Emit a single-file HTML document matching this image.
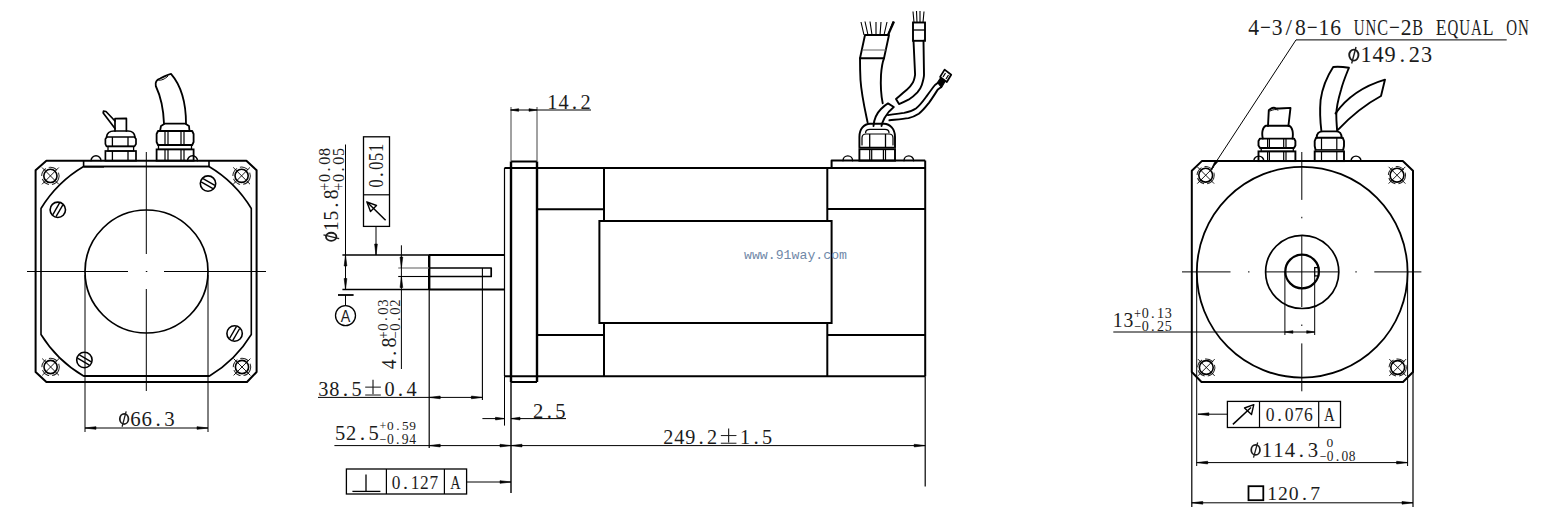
<!DOCTYPE html>
<html><head><meta charset="utf-8"><style>
html,body{margin:0;padding:0;background:#fff;}
body{width:1556px;height:510px;overflow:hidden;}
svg{display:block;font-family:"Liberation Serif",serif;}
</style></head><body>
<svg width="1556" height="510" viewBox="0 0 1556 510">
<rect width="1556" height="510" fill="#fff"/>
<path d="M46.4,160.7 L246.4,160.7 L256.6,170.3 L256.6,372 L247,382 L46.4,382 L35.6,372 L35.6,170.3 Z" stroke="#000" stroke-width="2" fill="none" stroke-linejoin="round"/>
<path d="M83.6,160.7 L83.6,166.5 L209,166.5 L209,160.7" stroke="#000" stroke-width="1.6" fill="none" stroke-linejoin="round"/>
<line x1="83.6" y1="166.8" x2="104" y2="166.8" stroke="#000" stroke-width="1.6"/>
<path d="M83.6,166.5 L209,166.5 A122.7,122.7 0 0 1 251.3,208.5 L251.3,334.5 A122.7,122.7 0 0 1 209.5,376 L83.6,376 A122.7,122.7 0 0 1 41,334.5 L41,208.5 A122.7,122.7 0 0 1 83.6,166.5" stroke="#000" stroke-width="1.6" fill="none" stroke-linejoin="round" stroke-linecap="round"/>
<line x1="83.6" y1="376" x2="209.5" y2="376" stroke="#000" stroke-width="2.2"/>
<circle cx="50.4" cy="175.9" r="6.6" stroke="#000" stroke-width="1.6" fill="none"/>
<circle cx="50.4" cy="175.9" r="8.7" stroke="#222" stroke-width="1" fill="none" stroke-dasharray="9 3" transform="rotate(20 50.4 175.9)"/>
<line x1="42" y1="167.5" x2="58.8" y2="184.3" stroke="#000" stroke-width="0.9"/>
<line x1="42" y1="184.3" x2="58.8" y2="167.5" stroke="#000" stroke-width="0.9"/>
<circle cx="241.6" cy="175.8" r="6.6" stroke="#000" stroke-width="1.6" fill="none"/>
<circle cx="241.6" cy="175.8" r="8.7" stroke="#222" stroke-width="1" fill="none" stroke-dasharray="9 3" transform="rotate(20 241.6 175.8)"/>
<line x1="233.2" y1="167.4" x2="250" y2="184.2" stroke="#000" stroke-width="0.9"/>
<line x1="233.2" y1="184.2" x2="250" y2="167.4" stroke="#000" stroke-width="0.9"/>
<circle cx="50.6" cy="367" r="6.6" stroke="#000" stroke-width="1.6" fill="none"/>
<circle cx="50.6" cy="367" r="8.7" stroke="#222" stroke-width="1" fill="none" stroke-dasharray="9 3" transform="rotate(20 50.6 367)"/>
<line x1="42.2" y1="358.6" x2="59" y2="375.4" stroke="#000" stroke-width="0.9"/>
<line x1="42.2" y1="375.4" x2="59" y2="358.6" stroke="#000" stroke-width="0.9"/>
<circle cx="242" cy="367" r="6.6" stroke="#000" stroke-width="1.6" fill="none"/>
<circle cx="242" cy="367" r="8.7" stroke="#222" stroke-width="1" fill="none" stroke-dasharray="9 3" transform="rotate(20 242 367)"/>
<line x1="233.6" y1="358.6" x2="250.4" y2="375.4" stroke="#000" stroke-width="0.9"/>
<line x1="233.6" y1="375.4" x2="250.4" y2="358.6" stroke="#000" stroke-width="0.9"/>
<circle cx="57.8" cy="209.8" r="7.7" stroke="#000" stroke-width="1.6" fill="none"/>
<line x1="52.72" y1="214.79" x2="59.59" y2="202.91" stroke="#000" stroke-width="1.4"/>
<line x1="56.01" y1="216.69" x2="62.88" y2="204.81" stroke="#000" stroke-width="1.4"/>
<circle cx="208" cy="183.6" r="7.7" stroke="#000" stroke-width="1.6" fill="none"/>
<line x1="203.01" y1="178.52" x2="214.89" y2="185.39" stroke="#000" stroke-width="1.4"/>
<line x1="201.11" y1="181.81" x2="212.99" y2="188.68" stroke="#000" stroke-width="1.4"/>
<circle cx="234.6" cy="333.5" r="7.7" stroke="#000" stroke-width="1.6" fill="none"/>
<line x1="229.52" y1="338.49" x2="236.39" y2="326.61" stroke="#000" stroke-width="1.4"/>
<line x1="232.81" y1="340.39" x2="239.68" y2="328.51" stroke="#000" stroke-width="1.4"/>
<circle cx="84.4" cy="360" r="7.7" stroke="#000" stroke-width="1.6" fill="none"/>
<line x1="79.41" y1="354.92" x2="91.29" y2="361.79" stroke="#000" stroke-width="1.4"/>
<line x1="77.51" y1="358.21" x2="89.39" y2="365.08" stroke="#000" stroke-width="1.4"/>
<line x1="27" y1="271.5" x2="128" y2="271.5" stroke="#000" stroke-width="1"/>
<line x1="145.8" y1="271.5" x2="147.3" y2="271.5" stroke="#000" stroke-width="1"/>
<line x1="164" y1="271.5" x2="266" y2="271.5" stroke="#000" stroke-width="1"/>
<line x1="146.3" y1="152" x2="146.3" y2="254" stroke="#000" stroke-width="1"/>
<line x1="146.3" y1="289" x2="146.3" y2="391" stroke="#000" stroke-width="1"/>
<circle cx="146.5" cy="271.5" r="61.5" stroke="#000" stroke-width="1.7" fill="none"/>
<line x1="85" y1="275" x2="85" y2="432" stroke="#000" stroke-width="1"/>
<line x1="208" y1="275" x2="208" y2="432" stroke="#000" stroke-width="1"/>
<line x1="85" y1="428" x2="208" y2="428" stroke="#000" stroke-width="1"/>
<path d="M85,428 L96,426.65 L96,429.35 Z" fill="#000" stroke="#000" stroke-width="0.6"/>
<path d="M208,428 L197,429.35 L197,426.65 Z" fill="#000" stroke="#000" stroke-width="0.6"/>
<g font-family="Liberation Serif" font-size="21.04" fill="#1c1c1c"><ellipse cx="124.13" cy="418.93" rx="4.31" ry="5.11" stroke="#1c1c1c" stroke-width="1.77" fill="none"/><line x1="126.17" y1="411.4" x2="122.09" y2="426.74" stroke="#1c1c1c" stroke-width="1.29"/><text transform="translate(135.47,425.6) scale(0.991,1)" text-anchor="middle">6</text><text transform="translate(146.8,425.6) scale(0.991,1)" text-anchor="middle">6</text><text x="158.13" y="425.6" text-anchor="middle">.</text><text transform="translate(169.47,425.6) scale(0.991,1)" text-anchor="middle">3</text></g>
<rect x="105.4" y="151" width="30.6" height="9.7" stroke="#000" stroke-width="1.7" fill="none"/>
<line x1="112.4" y1="151" x2="112.4" y2="160.7" stroke="#000" stroke-width="1.3"/>
<line x1="128" y1="151" x2="128" y2="160.7" stroke="#000" stroke-width="1.3"/>
<rect x="108" y="146.4" width="25.6" height="4.6" stroke="#000" stroke-width="1.3" fill="none"/>
<path d="M106.5,146.4 L105.4,144 L105.4,139 L107,137 L134.5,137 L136,139 L136,144 L134.5,146.4 Z" stroke="#000" stroke-width="1.7" fill="none" stroke-linejoin="round" stroke-linecap="round"/>
<line x1="112.4" y1="137" x2="112.4" y2="146.4" stroke="#000" stroke-width="1.3"/>
<line x1="128" y1="137" x2="128" y2="146.4" stroke="#000" stroke-width="1.3"/>
<path d="M106.5,137 C107,133 110,131 114,131 L128,131 C132,131 134.5,133 135,137" stroke="#000" stroke-width="1.7" fill="none" stroke-linejoin="round" stroke-linecap="round"/>
<path d="M115,131 L115,118.6 L126.4,118.4 L126.4,131" stroke="#000" stroke-width="1.7" fill="none" stroke-linejoin="round" stroke-linecap="round"/>
<path d="M115,128.5 L103.2,113 L103.5,111.2 L106,111.5 L115,121" stroke="#000" stroke-width="1.7" fill="none" stroke-linejoin="round" stroke-linecap="round"/>
<path d="M91,160.7 A5,5 0 0 1 101,160.7" stroke="#000" stroke-width="1.4" fill="none" stroke-linejoin="round" stroke-linecap="round"/>
<path d="M187.5,160.7 A5,5 0 0 1 197.5,160.7" stroke="#000" stroke-width="1.4" fill="none" stroke-linejoin="round" stroke-linecap="round"/>
<rect x="156.6" y="149.4" width="37" height="11.3" stroke="#000" stroke-width="1.8" fill="none"/>
<line x1="165" y1="149.4" x2="165" y2="160.7" stroke="#000" stroke-width="1.2"/>
<line x1="168" y1="149.4" x2="168" y2="160.7" stroke="#000" stroke-width="1.2"/>
<line x1="181" y1="149.4" x2="181" y2="160.7" stroke="#000" stroke-width="1.2"/>
<line x1="184" y1="149.4" x2="184" y2="160.7" stroke="#000" stroke-width="1.2"/>
<rect x="158.5" y="145" width="33" height="4.4" stroke="#000" stroke-width="1.3" fill="none"/>
<path d="M158,145 L156.6,142 L156.6,134 L158,131 L192.2,131 L193.6,134 L193.6,142 L192.2,145 Z" stroke="#000" stroke-width="1.8" fill="none" stroke-linejoin="round" stroke-linecap="round"/>
<line x1="165" y1="131" x2="165" y2="145" stroke="#000" stroke-width="1.2"/>
<line x1="168" y1="131" x2="168" y2="145" stroke="#000" stroke-width="1.2"/>
<line x1="181" y1="131" x2="181" y2="145" stroke="#000" stroke-width="1.2"/>
<line x1="184" y1="131" x2="184" y2="145" stroke="#000" stroke-width="1.2"/>
<path d="M160,131 L161,126 L165,123.6 L185,123.6 L189,126 L189.5,131" stroke="#000" stroke-width="1.8" fill="none" stroke-linejoin="round" stroke-linecap="round"/>
<path d="M164,123.6 C163.5,110 161,97 155.8,86 C155,82 157,79.5 160,78.5 C164,77 167,74.5 171,73.8 C179,83 186,97 186,123.6" stroke="#000" stroke-width="1.8" fill="none" stroke-linejoin="round" stroke-linecap="round"/>
<path d="M158,80 C161,81 165,79 168,76" stroke="#000" stroke-width="1" fill="none" stroke-linejoin="round" stroke-linecap="round"/>
<line x1="504.5" y1="167.9" x2="504.5" y2="376.3" stroke="#000" stroke-width="1.2"/>
<line x1="504.5" y1="167.9" x2="925.2" y2="167.9" stroke="#000" stroke-width="2"/>
<line x1="504.5" y1="376.3" x2="925.2" y2="376.3" stroke="#000" stroke-width="2"/>
<line x1="511" y1="161.5" x2="511" y2="382" stroke="#000" stroke-width="2.4"/>
<line x1="537" y1="161.5" x2="537" y2="382" stroke="#000" stroke-width="2.4"/>
<line x1="511" y1="161.5" x2="537" y2="161.5" stroke="#000" stroke-width="2"/>
<line x1="511" y1="382" x2="537" y2="382" stroke="#000" stroke-width="2"/>
<line x1="511" y1="107" x2="511" y2="161.5" stroke="#444" stroke-width="1"/>
<line x1="537" y1="107" x2="537" y2="161.5" stroke="#444" stroke-width="1"/>
<line x1="511" y1="382" x2="511" y2="493" stroke="#000" stroke-width="1.4"/>
<line x1="504.5" y1="376.3" x2="504.5" y2="425.6" stroke="#000" stroke-width="1"/>
<line x1="537" y1="209.3" x2="604" y2="209.3" stroke="#000" stroke-width="2"/>
<line x1="537" y1="335" x2="604" y2="335" stroke="#000" stroke-width="2"/>
<line x1="604" y1="167.9" x2="604" y2="221" stroke="#000" stroke-width="2"/>
<line x1="604" y1="323" x2="604" y2="376.3" stroke="#000" stroke-width="2"/>
<rect x="599.4" y="221" width="232.2" height="102" stroke="#000" stroke-width="2" fill="none"/>
<line x1="827.3" y1="167.9" x2="827.3" y2="221" stroke="#000" stroke-width="2"/>
<line x1="827.3" y1="323" x2="827.3" y2="376.3" stroke="#000" stroke-width="2"/>
<line x1="827.3" y1="209" x2="925.2" y2="209" stroke="#000" stroke-width="2"/>
<line x1="827.3" y1="335" x2="925.2" y2="335" stroke="#000" stroke-width="2"/>
<line x1="925.2" y1="160.5" x2="925.2" y2="376.3" stroke="#000" stroke-width="2"/>
<line x1="925.2" y1="376.3" x2="925.2" y2="486.4" stroke="#000" stroke-width="1.2"/>
<path d="M831.6,167.9 L831.6,160.5 L925.2,160.5" stroke="#000" stroke-width="2" fill="none" stroke-linejoin="round"/>
<line x1="429" y1="255" x2="504.5" y2="255" stroke="#000" stroke-width="2"/>
<line x1="429" y1="289.5" x2="504.5" y2="289.5" stroke="#000" stroke-width="2"/>
<line x1="429.2" y1="255" x2="429.2" y2="289.5" stroke="#000" stroke-width="2.4"/>
<line x1="342.4" y1="255" x2="429" y2="255" stroke="#000" stroke-width="1.4"/>
<line x1="342.4" y1="289.5" x2="429" y2="289.5" stroke="#000" stroke-width="1.4"/>
<line x1="429.2" y1="289.5" x2="429.2" y2="448" stroke="#000" stroke-width="1.2"/>
<path d="M429,268 L491.2,268 L491.2,276.5 L429,276.5" stroke="#000" stroke-width="1.7" fill="none" stroke-linejoin="round"/>
<line x1="398.2" y1="268" x2="429" y2="268" stroke="#777" stroke-width="1.2"/>
<line x1="398.2" y1="276.5" x2="429" y2="276.5" stroke="#000" stroke-width="1.1"/>
<line x1="482.4" y1="268" x2="482.4" y2="400" stroke="#000" stroke-width="1.1"/>
<line x1="345.5" y1="144.5" x2="345.5" y2="289.5" stroke="#000" stroke-width="1"/>
<path d="M345.5,255 L346.85,266 L344.15,266 Z" fill="#000" stroke="#000" stroke-width="0.6"/>
<path d="M345.5,289.5 L344.15,278.5 L346.85,278.5 Z" fill="#000" stroke="#000" stroke-width="0.6"/>
<g font-family="Liberation Serif" font-size="21.48" fill="#1c1c1c" transform="rotate(-90 338 241)"><ellipse cx="342.23" cy="234.19" rx="4.01" ry="5.22" stroke="#1c1c1c" stroke-width="1.81" fill="none"/><line x1="344.13" y1="226.5" x2="340.32" y2="242.16" stroke="#1c1c1c" stroke-width="1.32"/><text transform="translate(352.79,241) scale(0.905,1)" text-anchor="middle">1</text><text transform="translate(363.35,241) scale(0.905,1)" text-anchor="middle">5</text><text x="373.91" y="241" text-anchor="middle">.</text><text transform="translate(384.48,241) scale(0.905,1)" text-anchor="middle">8</text></g>
<g font-family="Liberation Serif" font-size="16" fill="#1c1c1c" transform="rotate(-90 330.3 190.3)"><text transform="translate(333.78,190.3) scale(0.888,1)" text-anchor="middle">+</text><text x="342.49" y="190.3" text-anchor="middle">0</text><text x="351.2" y="190.3" text-anchor="middle">.</text><text x="359.91" y="190.3" text-anchor="middle">0</text><text x="368.62" y="190.3" text-anchor="middle">8</text></g>
<g font-family="Liberation Serif" font-size="16" fill="#1c1c1c" transform="rotate(-90 343.6 190.3)"><text transform="translate(347.08,190.3) scale(0.888,1)" text-anchor="middle">+</text><text x="355.79" y="190.3" text-anchor="middle">0</text><text x="364.5" y="190.3" text-anchor="middle">.</text><text x="373.21" y="190.3" text-anchor="middle">0</text><text x="381.92" y="190.3" text-anchor="middle">5</text></g>
<line x1="338" y1="295" x2="353.6" y2="295" stroke="#000" stroke-width="1.8"/>
<line x1="345.5" y1="295" x2="345.5" y2="305.6" stroke="#000" stroke-width="1"/>
<circle cx="345.5" cy="315.6" r="10" stroke="#000" stroke-width="1.3" fill="none"/>
<g font-family="Liberation Sans" font-size="17.04" fill="#1c1c1c"><text transform="translate(345.5,321.5) scale(0.841,1)" text-anchor="middle">A</text></g>
<rect x="363.5" y="136.8" width="26" height="89.6" stroke="#000" stroke-width="1.3" fill="none"/>
<line x1="363.5" y1="194.8" x2="389.5" y2="194.8" stroke="#000" stroke-width="1.2"/>
<g font-family="Liberation Serif" font-size="20.59" fill="#1c1c1c" transform="rotate(-90 383.4 187)"><text transform="translate(386.94,187) scale(0.791,1)" text-anchor="middle">0</text><text x="395.8" y="187" text-anchor="middle">.</text><text transform="translate(404.65,187) scale(0.791,1)" text-anchor="middle">0</text><text transform="translate(413.5,187) scale(0.791,1)" text-anchor="middle">5</text><text transform="translate(422.36,187) scale(0.791,1)" text-anchor="middle">1</text></g>
<line x1="385.6" y1="220.3" x2="368.5" y2="203.5" stroke="#000" stroke-width="1.5"/>
<path d="M366.8,201.8 L376.5,205.5 L370.5,211.5 Z" stroke="#000" stroke-width="1.4" fill="none" stroke-linejoin="round"/>
<line x1="376" y1="226.4" x2="376" y2="255" stroke="#000" stroke-width="1"/>
<path d="M376,255 L374.65,244 L377.35,244 Z" fill="#000" stroke="#000" stroke-width="0.6"/>
<line x1="401.4" y1="245.3" x2="401.4" y2="369" stroke="#000" stroke-width="1"/>
<path d="M401.4,268 L400.05,257 L402.75,257 Z" fill="#000" stroke="#000" stroke-width="0.6"/>
<path d="M401.4,276.5 L402.75,287.5 L400.05,287.5 Z" fill="#000" stroke="#000" stroke-width="0.6"/>
<g font-family="Liberation Serif" font-size="21.33" fill="#1c1c1c" transform="rotate(-90 395.6 368.5)"><text transform="translate(399.91,368.5) scale(0.930,1)" text-anchor="middle">4</text><text x="410.7" y="368.5" text-anchor="middle">.</text><text transform="translate(421.49,368.5) scale(0.930,1)" text-anchor="middle">8</text></g>
<g font-family="Liberation Serif" font-size="15.56" fill="#1c1c1c" transform="rotate(-90 387.5 338.3)"><text transform="translate(390.69,338.3) scale(0.837,1)" text-anchor="middle">+</text><text transform="translate(398.67,338.3) scale(0.944,1)" text-anchor="middle">0</text><text x="406.65" y="338.3" text-anchor="middle">.</text><text transform="translate(414.63,338.3) scale(0.944,1)" text-anchor="middle">0</text><text transform="translate(422.61,338.3) scale(0.944,1)" text-anchor="middle">3</text></g>
<g font-family="Liberation Serif" font-size="14.52" fill="#1c1c1c" transform="rotate(-90 400 338.3)"><text transform="translate(403.19,338.3) scale(0.897,1)" text-anchor="middle">−</text><text x="411.17" y="338.3" text-anchor="middle">0</text><text x="419.15" y="338.3" text-anchor="middle">.</text><text x="427.13" y="338.3" text-anchor="middle">0</text><text x="435.11" y="338.3" text-anchor="middle">2</text></g>
<line x1="510.6" y1="110" x2="591" y2="110" stroke="#000" stroke-width="1"/>
<path d="M510.6,110 L518.6,108.65 L518.6,111.35 Z" fill="#000" stroke="#000" stroke-width="0.6"/>
<path d="M537,110 L529,111.35 L529,108.65 Z" fill="#000" stroke="#000" stroke-width="0.6"/>
<g font-family="Liberation Serif" font-size="21.63" fill="#1c1c1c"><text transform="translate(552.42,109) scale(0.940,1)" text-anchor="middle">1</text><text transform="translate(563.47,109) scale(0.940,1)" text-anchor="middle">4</text><text x="574.53" y="109" text-anchor="middle">.</text><text transform="translate(585.58,109) scale(0.940,1)" text-anchor="middle">2</text></g>
<line x1="318" y1="397.4" x2="482.4" y2="397.4" stroke="#000" stroke-width="1"/>
<path d="M429.2,397.4 L440.2,396.05 L440.2,398.75 Z" fill="#000" stroke="#000" stroke-width="0.6"/>
<path d="M482.4,397.4 L471.4,398.75 L471.4,396.05 Z" fill="#000" stroke="#000" stroke-width="0.6"/>
<g font-family="Liberation Serif" font-size="21.63" fill="#1c1c1c"><text transform="translate(323.41,395.6) scale(0.938,1)" text-anchor="middle">3</text><text transform="translate(334.43,395.6) scale(0.938,1)" text-anchor="middle">8</text><text x="345.45" y="395.6" text-anchor="middle">.</text><text transform="translate(356.48,395.6) scale(0.938,1)" text-anchor="middle">5</text><line x1="365.19" y1="387.13" x2="380.84" y2="387.13" stroke="#1c1c1c" stroke-width="1.04"/><line x1="373.01" y1="379.83" x2="373.01" y2="394.14" stroke="#1c1c1c" stroke-width="1.15"/><line x1="365.19" y1="395.02" x2="380.84" y2="395.02" stroke="#1c1c1c" stroke-width="1.04"/><text transform="translate(389.55,395.6) scale(0.938,1)" text-anchor="middle">0</text><text x="400.57" y="395.6" text-anchor="middle">.</text><text transform="translate(411.59,395.6) scale(0.938,1)" text-anchor="middle">4</text></g>
<line x1="482.4" y1="418.6" x2="504.5" y2="418.6" stroke="#000" stroke-width="1"/>
<path d="M504.5,418.6 L495.5,419.95 L495.5,417.25 Z" fill="#000" stroke="#000" stroke-width="0.6"/>
<line x1="511" y1="418.6" x2="566" y2="418.6" stroke="#000" stroke-width="1"/>
<path d="M511,418.6 L520,417.25 L520,419.95 Z" fill="#000" stroke="#000" stroke-width="0.6"/>
<g font-family="Liberation Serif" font-size="20.74" fill="#1c1c1c"><text transform="translate(538.09,417.6) scale(0.995,1)" text-anchor="middle">2</text><text x="549.3" y="417.6" text-anchor="middle">.</text><text transform="translate(560.51,417.6) scale(0.995,1)" text-anchor="middle">5</text></g>
<line x1="334.4" y1="445.6" x2="925.2" y2="445.6" stroke="#000" stroke-width="1"/>
<path d="M429.2,445.6 L440.2,444.25 L440.2,446.95 Z" fill="#000" stroke="#000" stroke-width="0.6"/>
<path d="M511,445.6 L500,446.95 L500,444.25 Z" fill="#000" stroke="#000" stroke-width="0.6"/>
<path d="M511,445.6 L522,444.25 L522,446.95 Z" fill="#000" stroke="#000" stroke-width="0.6"/>
<path d="M925.2,445.6 L914.2,446.95 L914.2,444.25 Z" fill="#000" stroke="#000" stroke-width="0.6"/>
<g font-family="Liberation Serif" font-size="21.63" fill="#1c1c1c"><text transform="translate(340.06,439.6) scale(0.949,1)" text-anchor="middle">5</text><text transform="translate(351.22,439.6) scale(0.949,1)" text-anchor="middle">2</text><text x="362.38" y="439.6" text-anchor="middle">.</text><text transform="translate(373.54,439.6) scale(0.949,1)" text-anchor="middle">5</text></g>
<g font-family="Liberation Serif" font-size="13.33" fill="#1c1c1c"><text transform="translate(382.97,430) scale(0.907,1)" text-anchor="middle">+</text><text x="390.38" y="430" text-anchor="middle">0</text><text x="397.8" y="430" text-anchor="middle">.</text><text x="405.22" y="430" text-anchor="middle">5</text><text x="412.63" y="430" text-anchor="middle">9</text></g>
<g font-family="Liberation Serif" font-size="13.63" fill="#1c1c1c"><text transform="translate(382.97,443.6) scale(0.888,1)" text-anchor="middle">−</text><text x="390.38" y="443.6" text-anchor="middle">0</text><text x="397.8" y="443.6" text-anchor="middle">.</text><text x="405.22" y="443.6" text-anchor="middle">9</text><text x="412.63" y="443.6" text-anchor="middle">4</text></g>
<g font-family="Liberation Serif" font-size="21.04" fill="#1c1c1c"><text transform="translate(668.2,443.8) scale(0.961,1)" text-anchor="middle">2</text><text transform="translate(679.19,443.8) scale(0.961,1)" text-anchor="middle">4</text><text transform="translate(690.18,443.8) scale(0.961,1)" text-anchor="middle">9</text><text x="701.17" y="443.8" text-anchor="middle">.</text><text transform="translate(712.16,443.8) scale(0.961,1)" text-anchor="middle">2</text><line x1="720.84" y1="435.56" x2="736.44" y2="435.56" stroke="#1c1c1c" stroke-width="1.01"/><line x1="728.64" y1="428.46" x2="728.64" y2="442.38" stroke="#1c1c1c" stroke-width="1.12"/><line x1="720.84" y1="443.23" x2="736.44" y2="443.23" stroke="#1c1c1c" stroke-width="1.01"/><text transform="translate(745.12,443.8) scale(0.961,1)" text-anchor="middle">1</text><text x="756.11" y="443.8" text-anchor="middle">.</text><text transform="translate(767.1,443.8) scale(0.961,1)" text-anchor="middle">5</text></g>
<rect x="346.4" y="469" width="120.2" height="25" stroke="#000" stroke-width="1.3" fill="none"/>
<line x1="386.4" y1="469" x2="386.4" y2="494" stroke="#000" stroke-width="1.2"/>
<line x1="444.4" y1="469" x2="444.4" y2="494" stroke="#000" stroke-width="1.2"/>
<line x1="352.4" y1="491.4" x2="380.4" y2="491.4" stroke="#000" stroke-width="1.3"/>
<line x1="366" y1="474.4" x2="366" y2="491.4" stroke="#000" stroke-width="1.3"/>
<g font-family="Liberation Serif" font-size="19.85" fill="#1c1c1c"><text transform="translate(396.17,489) scale(0.873,1)" text-anchor="middle">0</text><text x="405.58" y="489" text-anchor="middle">.</text><text transform="translate(415,489) scale(0.873,1)" text-anchor="middle">1</text><text transform="translate(424.42,489) scale(0.873,1)" text-anchor="middle">2</text><text transform="translate(433.83,489) scale(0.873,1)" text-anchor="middle">7</text></g>
<g font-family="Liberation Serif" font-size="19.85" fill="#1c1c1c"><text transform="translate(455.5,489) scale(0.722,1)" text-anchor="middle">A</text></g>
<line x1="466.6" y1="482" x2="511" y2="482" stroke="#000" stroke-width="1"/>
<path d="M511,482 L500,483.35 L500,480.65 Z" fill="#000" stroke="#000" stroke-width="0.6"/>
<text x="744" y="259.2" font-family="Liberation Mono" font-size="13.2" fill="#7088a8" textLength="103" lengthAdjust="spacingAndGlyphs">www.91way.com</text>
<path d="M843,160.7 A4.8,4.8 0 0 1 852.6,160.7" stroke="#000" stroke-width="1.4" fill="none" stroke-linejoin="round" stroke-linecap="round"/>
<path d="M904,160.7 A4.8,4.8 0 0 1 913.6,160.7" stroke="#000" stroke-width="1.4" fill="none" stroke-linejoin="round" stroke-linecap="round"/>
<rect x="859.4" y="149.2" width="35.6" height="11.5" stroke="#000" stroke-width="1.9" fill="none"/>
<line x1="869.7" y1="149.2" x2="869.7" y2="160.7" stroke="#000" stroke-width="1.2"/>
<line x1="871.7" y1="149.2" x2="871.7" y2="160.7" stroke="#000" stroke-width="1.2"/>
<line x1="883.4" y1="149.2" x2="883.4" y2="160.7" stroke="#000" stroke-width="1.2"/>
<line x1="885.5" y1="149.2" x2="885.5" y2="160.7" stroke="#000" stroke-width="1.2"/>
<line x1="860" y1="147.5" x2="894.4" y2="147.5" stroke="#000" stroke-width="1.3"/>
<path d="M859.4,147.5 L859.4,137 C859.4,129 864,124 870,123.8 L884,123.8 C890,124 895,129 895,137 L895,147.5" stroke="#000" stroke-width="1.9" fill="none" stroke-linejoin="round" stroke-linecap="round"/>
<path d="M862,145 L862,138 C862,135 864,134 866,134 L889,134 C891,134 893,135 893,138 L893,145" stroke="#000" stroke-width="1.2" fill="none" stroke-linejoin="round" stroke-linecap="round"/>
<line x1="869.7" y1="134" x2="869.7" y2="147.5" stroke="#000" stroke-width="1.3"/>
<line x1="885.5" y1="134" x2="885.5" y2="147.5" stroke="#000" stroke-width="1.3"/>
<path d="M865.6,132.7 C865.6,130 867,129.3 870,129.3 L885,129.3 C888,129.3 889,130 889,132.7" stroke="#000" stroke-width="1.3" fill="none" stroke-linejoin="round" stroke-linecap="round"/>
<path d="M867.6,122.4 C865,110 861.5,95 860.5,80 C860,70 860,62 860,58.3" stroke="#000" stroke-width="1.9" fill="none" stroke-linejoin="round" stroke-linecap="round"/>
<path d="M882.7,103.2 C881,95 880.5,85 881,75 C881.5,68 882.5,62 884,58.3" stroke="#000" stroke-width="1.9" fill="none" stroke-linejoin="round" stroke-linecap="round"/>
<path d="M860,58.3 L865,35 L889,35 L884,58.3 Z" stroke="#000" stroke-width="1.9" fill="none" stroke-linejoin="round"/>
<line x1="862" y1="50" x2="886" y2="50" stroke="#666" stroke-width="1"/>
<path d="M864,35 L861,22 M868,35 L865,21.5 M872,35 L870,21.5 M876,35 L876,22 M880,35 L881,22 M884,35 L887,22 M888,35 L893,21.5" stroke="#000" stroke-width="1.1"/>
<line x1="888" y1="35" x2="894" y2="21.5" stroke="#000" stroke-width="2.2"/>
<path d="M873.5,126 C874,119 877,113 881,109 C884,106 886,104.5 888,103.4 L893.8,107 C890,110 886.5,114.4 884.5,118 C883,121 882,123 881.5,126" stroke="#000" stroke-width="1.9" fill="none" stroke-linejoin="round" stroke-linecap="round"/>
<rect x="913" y="22.5" width="12" height="18.3" stroke="#000" stroke-width="1.9" fill="none"/>
<line x1="913" y1="30" x2="925" y2="30" stroke="#000" stroke-width="1.3"/>
<path d="M914,22.5 L913,11.5 M917,22.5 L916.5,11 M920,22.5 L920,11 M923,22.5 L924,11.5" stroke="#000" stroke-width="1.1"/>
<path d="M913.5,40.8 L915.1,74.7 C914.5,79 913.5,82 912.2,83.5 C910.5,86.5 909,88 907.1,89.4 C904,92 901,95 896,99 L899,104.1 C903,102.5 906,101 908.5,99.7 C912,97.5 915,95 917.4,92.4 C919.5,90 921,87.5 921.8,85 C923,81 924,77 924,74.7 L923.5,40.8" stroke="#000" stroke-width="1.9" fill="none" stroke-linejoin="round" stroke-linecap="round"/>
<path d="M887.9,115.1 C895,114 900,113.5 904.1,112.9 C909,112 913,110.5 915.9,108.5 C920,105.5 923.5,100.5 926.2,96.8 C930,91.5 932.5,88 935,85 L938,82.8" stroke="#000" stroke-width="1.9" fill="none" stroke-linejoin="round" stroke-linecap="round"/>
<path d="M889.4,120.3 C897,119.5 903,119 908.5,118.1 C913,117 916,115.5 918.8,113.7 C923,110.5 926,106.5 929.1,102.6 C932.5,98 935.5,93 937.9,89.4 L940.9,87.2" stroke="#000" stroke-width="1.9" fill="none" stroke-linejoin="round" stroke-linecap="round"/>
<path d="M944.6,69.6 L951.2,74.7 L946.8,82 L940.1,76.9 Z" stroke="#000" stroke-width="1.8" fill="none" stroke-linejoin="round"/>
<path d="M937.5,82.5 L940.5,78 L945,81.5 L941.5,87.5 Z" stroke="#000" stroke-width="1.2" fill="#000" stroke-linejoin="round"/>
<line x1="945.5" y1="73" x2="943" y2="77" stroke="#000" stroke-width="1.2"/>
<line x1="948.5" y1="75" x2="946" y2="79" stroke="#000" stroke-width="1.2"/>
<path d="M1201.8,161.1 L1402.8,161.1 L1413,170.7 L1413,372 L1403,382 L1201.5,382 L1191.8,372 L1191.8,170.7 Z" stroke="#000" stroke-width="2" fill="none" stroke-linejoin="round"/>
<circle cx="1205.7" cy="175.2" r="6.9" stroke="#000" stroke-width="1.6" fill="none"/>
<circle cx="1205.7" cy="175.2" r="8.6" stroke="#222" stroke-width="1" fill="none" stroke-dasharray="9 3" transform="rotate(20 1205.7 175.2)"/>
<line x1="1197.3" y1="166.8" x2="1214.1" y2="183.6" stroke="#000" stroke-width="0.9"/>
<line x1="1197.3" y1="183.6" x2="1214.1" y2="166.8" stroke="#000" stroke-width="0.9"/>
<circle cx="1397" cy="175.2" r="6.9" stroke="#000" stroke-width="1.6" fill="none"/>
<circle cx="1397" cy="175.2" r="8.6" stroke="#222" stroke-width="1" fill="none" stroke-dasharray="9 3" transform="rotate(20 1397 175.2)"/>
<line x1="1388.6" y1="166.8" x2="1405.4" y2="183.6" stroke="#000" stroke-width="0.9"/>
<line x1="1388.6" y1="183.6" x2="1405.4" y2="166.8" stroke="#000" stroke-width="0.9"/>
<circle cx="1206.3" cy="367.5" r="6.9" stroke="#000" stroke-width="1.6" fill="none"/>
<circle cx="1206.3" cy="367.5" r="8.6" stroke="#222" stroke-width="1" fill="none" stroke-dasharray="9 3" transform="rotate(20 1206.3 367.5)"/>
<line x1="1197.9" y1="359.1" x2="1214.7" y2="375.9" stroke="#000" stroke-width="0.9"/>
<line x1="1197.9" y1="375.9" x2="1214.7" y2="359.1" stroke="#000" stroke-width="0.9"/>
<circle cx="1397.7" cy="367.5" r="6.9" stroke="#000" stroke-width="1.6" fill="none"/>
<circle cx="1397.7" cy="367.5" r="8.6" stroke="#222" stroke-width="1" fill="none" stroke-dasharray="9 3" transform="rotate(20 1397.7 367.5)"/>
<line x1="1389.3" y1="359.1" x2="1406.1" y2="375.9" stroke="#000" stroke-width="0.9"/>
<line x1="1389.3" y1="375.9" x2="1406.1" y2="359.1" stroke="#000" stroke-width="0.9"/>
<circle cx="1302.2" cy="272.2" r="105.4" stroke="#000" stroke-width="1.8" fill="none"/>
<circle cx="1302.2" cy="271.9" r="36.6" stroke="#000" stroke-width="1.7" fill="none"/>
<circle cx="1302.1" cy="271.5" r="16.8" stroke="#000" stroke-width="2.2" fill="none"/>
<rect x="1314.7" y="267.6" width="3.9" height="8.3" stroke="#000" stroke-width="1.3" fill="none"/>
<line x1="1182" y1="271.9" x2="1230.5" y2="271.9" stroke="#000" stroke-width="1"/>
<line x1="1248" y1="271.9" x2="1249.5" y2="271.9" stroke="#000" stroke-width="1"/>
<line x1="1265.5" y1="271.9" x2="1338.8" y2="271.9" stroke="#000" stroke-width="1"/>
<line x1="1355.3" y1="271.9" x2="1356.8" y2="271.9" stroke="#000" stroke-width="1"/>
<line x1="1374.3" y1="271.9" x2="1421.4" y2="271.9" stroke="#000" stroke-width="1"/>
<line x1="1301.8" y1="152" x2="1301.8" y2="199.9" stroke="#000" stroke-width="1"/>
<line x1="1301.8" y1="216.8" x2="1301.8" y2="218.3" stroke="#000" stroke-width="1"/>
<line x1="1301.8" y1="236" x2="1301.8" y2="307" stroke="#000" stroke-width="1"/>
<line x1="1301.8" y1="324.5" x2="1301.8" y2="326" stroke="#000" stroke-width="1"/>
<line x1="1301.8" y1="343.4" x2="1301.8" y2="391.3" stroke="#000" stroke-width="1"/>
<line x1="1296" y1="39.9" x2="1506.7" y2="39.9" stroke="#000" stroke-width="1"/>
<line x1="1296" y1="39.9" x2="1211.4" y2="169" stroke="#000" stroke-width="1"/>
<path d="M1211.4,169 L1215.2,160.73 L1217.46,162.21 Z" fill="#000" stroke="#000" stroke-width="0.6"/>
<g font-family="Liberation Serif" font-size="23.11" fill="#1c1c1c"><text transform="translate(1253.59,35) scale(0.934,1)" text-anchor="middle">4</text><text transform="translate(1265.32,35) scale(0.828,1)" text-anchor="middle">−</text><text transform="translate(1277.04,35) scale(0.934,1)" text-anchor="middle">3</text><text x="1288.77" y="35" text-anchor="middle">/</text><text transform="translate(1300.5,35) scale(0.934,1)" text-anchor="middle">8</text><text transform="translate(1312.23,35) scale(0.828,1)" text-anchor="middle">−</text><text transform="translate(1323.95,35) scale(0.934,1)" text-anchor="middle">1</text><text transform="translate(1335.68,35) scale(0.934,1)" text-anchor="middle">6</text><text transform="translate(1359.13,35) scale(0.646,1)" text-anchor="middle">U</text><text transform="translate(1370.86,35) scale(0.646,1)" text-anchor="middle">N</text><text transform="translate(1382.59,35) scale(0.700,1)" text-anchor="middle">C</text><text transform="translate(1394.31,35) scale(0.828,1)" text-anchor="middle">−</text><text transform="translate(1406.04,35) scale(0.934,1)" text-anchor="middle">2</text><text transform="translate(1417.77,35) scale(0.700,1)" text-anchor="middle">B</text><text transform="translate(1441.22,35) scale(0.764,1)" text-anchor="middle">E</text><text transform="translate(1452.95,35) scale(0.646,1)" text-anchor="middle">Q</text><text transform="translate(1464.67,35) scale(0.646,1)" text-anchor="middle">U</text><text transform="translate(1476.4,35) scale(0.646,1)" text-anchor="middle">A</text><text transform="translate(1488.13,35) scale(0.764,1)" text-anchor="middle">L</text><text transform="translate(1511.58,35) scale(0.646,1)" text-anchor="middle">O</text><text transform="translate(1523.31,35) scale(0.646,1)" text-anchor="middle">N</text></g>
<g font-family="Liberation Serif" font-size="22.67" fill="#1c1c1c"><ellipse cx="1353.84" cy="55.11" rx="4.6" ry="5.51" stroke="#1c1c1c" stroke-width="1.91" fill="none"/><line x1="1356.02" y1="47" x2="1351.66" y2="63.52" stroke="#1c1c1c" stroke-width="1.39"/><text transform="translate(1365.94,62.3) scale(0.982,1)" text-anchor="middle">1</text><text transform="translate(1378.05,62.3) scale(0.982,1)" text-anchor="middle">4</text><text transform="translate(1390.15,62.3) scale(0.982,1)" text-anchor="middle">9</text><text x="1402.25" y="62.3" text-anchor="middle">.</text><text transform="translate(1414.36,62.3) scale(0.982,1)" text-anchor="middle">2</text><text transform="translate(1426.46,62.3) scale(0.982,1)" text-anchor="middle">3</text></g>
<line x1="1284.9" y1="271.5" x2="1284.9" y2="335" stroke="#000" stroke-width="1"/>
<line x1="1314.7" y1="275.9" x2="1314.7" y2="335" stroke="#000" stroke-width="1"/>
<line x1="1113.3" y1="332" x2="1314.7" y2="332" stroke="#000" stroke-width="1"/>
<path d="M1284.9,332 L1292.9,330.65 L1292.9,333.35 Z" fill="#000" stroke="#000" stroke-width="0.6"/>
<path d="M1314.7,332 L1306.7,333.35 L1306.7,330.65 Z" fill="#000" stroke="#000" stroke-width="0.6"/>
<g font-family="Liberation Serif" font-size="21.48" fill="#1c1c1c"><text transform="translate(1117.59,326.5) scale(0.918,1)" text-anchor="middle">1</text><text transform="translate(1128.31,326.5) scale(0.918,1)" text-anchor="middle">3</text></g>
<g font-family="Liberation Serif" font-size="14.22" fill="#1c1c1c"><text transform="translate(1137.57,317.5) scale(0.879,1)" text-anchor="middle">+</text><text transform="translate(1145.23,317.5) scale(0.992,1)" text-anchor="middle">0</text><text x="1152.9" y="317.5" text-anchor="middle">.</text><text transform="translate(1160.57,317.5) scale(0.992,1)" text-anchor="middle">1</text><text transform="translate(1168.23,317.5) scale(0.992,1)" text-anchor="middle">3</text></g>
<g font-family="Liberation Serif" font-size="14.22" fill="#1c1c1c"><text transform="translate(1137.57,331.3) scale(0.879,1)" text-anchor="middle">−</text><text transform="translate(1145.23,331.3) scale(0.992,1)" text-anchor="middle">0</text><text x="1152.9" y="331.3" text-anchor="middle">.</text><text transform="translate(1160.57,331.3) scale(0.992,1)" text-anchor="middle">2</text><text transform="translate(1168.23,331.3) scale(0.992,1)" text-anchor="middle">5</text></g>
<line x1="1196.7" y1="272.2" x2="1196.7" y2="466" stroke="#000" stroke-width="1"/>
<line x1="1407.6" y1="272.2" x2="1407.6" y2="466" stroke="#000" stroke-width="1"/>
<line x1="1191.8" y1="371.4" x2="1191.8" y2="507" stroke="#000" stroke-width="1.2"/>
<line x1="1413" y1="371.4" x2="1413" y2="507" stroke="#000" stroke-width="1.2"/>
<rect x="1227.4" y="401.4" width="113.1" height="26.1" stroke="#000" stroke-width="1.3" fill="none"/>
<line x1="1259.5" y1="401.4" x2="1259.5" y2="427.5" stroke="#000" stroke-width="1.2"/>
<line x1="1318.7" y1="401.4" x2="1318.7" y2="427.5" stroke="#000" stroke-width="1.2"/>
<line x1="1232.9" y1="424.4" x2="1251" y2="407.5" stroke="#000" stroke-width="1.5"/>
<path d="M1253.8,404.6 L1251.5,414.5 L1244.5,408 Z" stroke="#000" stroke-width="1.4" fill="none" stroke-linejoin="round"/>
<g font-family="Liberation Serif" font-size="18.52" fill="#1c1c1c"><text transform="translate(1270.12,420.7) scale(0.950,1)" text-anchor="middle">0</text><text x="1279.69" y="420.7" text-anchor="middle">.</text><text transform="translate(1289.25,420.7) scale(0.950,1)" text-anchor="middle">0</text><text transform="translate(1298.81,420.7) scale(0.950,1)" text-anchor="middle">7</text><text transform="translate(1308.38,420.7) scale(0.950,1)" text-anchor="middle">6</text></g>
<g font-family="Liberation Serif" font-size="18.52" fill="#1c1c1c"><text transform="translate(1329.35,420.7) scale(0.800,1)" text-anchor="middle">A</text></g>
<line x1="1197.9" y1="414.2" x2="1227.4" y2="414.2" stroke="#000" stroke-width="1"/>
<path d="M1197.9,414.2 L1208.9,412.85 L1208.9,415.55 Z" fill="#000" stroke="#000" stroke-width="0.6"/>
<line x1="1196.7" y1="462.6" x2="1407.6" y2="462.6" stroke="#000" stroke-width="1"/>
<path d="M1196.7,462.6 L1207.7,461.25 L1207.7,463.95 Z" fill="#000" stroke="#000" stroke-width="0.6"/>
<path d="M1407.6,462.6 L1396.6,463.95 L1396.6,461.25 Z" fill="#000" stroke="#000" stroke-width="0.6"/>
<g font-family="Liberation Serif" font-size="20.74" fill="#1c1c1c"><ellipse cx="1255.59" cy="449.92" rx="4.36" ry="5.04" stroke="#1c1c1c" stroke-width="1.75" fill="none"/><line x1="1257.65" y1="442.5" x2="1253.52" y2="457.62" stroke="#1c1c1c" stroke-width="1.27"/><text x="1267.05" y="456.5" text-anchor="middle">1</text><text x="1278.52" y="456.5" text-anchor="middle">1</text><text x="1289.98" y="456.5" text-anchor="middle">4</text><text x="1301.45" y="456.5" text-anchor="middle">.</text><text x="1312.91" y="456.5" text-anchor="middle">3</text></g>
<g font-family="Liberation Serif" font-size="13.48" fill="#1c1c1c"><text x="1329.95" y="446.8" text-anchor="middle">0</text></g>
<g font-family="Liberation Serif" font-size="14.22" fill="#1c1c1c"><text transform="translate(1322.92,460.6) scale(0.836,1)" text-anchor="middle">−</text><text transform="translate(1330.21,460.6) scale(0.943,1)" text-anchor="middle">0</text><text x="1337.5" y="460.6" text-anchor="middle">.</text><text transform="translate(1344.79,460.6) scale(0.943,1)" text-anchor="middle">0</text><text transform="translate(1352.08,460.6) scale(0.943,1)" text-anchor="middle">8</text></g>
<line x1="1191.8" y1="502.8" x2="1413" y2="502.8" stroke="#000" stroke-width="1"/>
<path d="M1191.8,502.8 L1202.8,501.45 L1202.8,504.15 Z" fill="#000" stroke="#000" stroke-width="0.6"/>
<path d="M1413,502.8 L1402,504.15 L1402,501.45 Z" fill="#000" stroke="#000" stroke-width="0.6"/>
<rect x="1248.5" y="486.2" width="14.8" height="14" stroke="#000" stroke-width="1.8" fill="none"/>
<g font-family="Liberation Serif" font-size="19.85" fill="#1c1c1c"><text transform="translate(1272.28,500.2) scale(0.993,1)" text-anchor="middle">1</text><text transform="translate(1282.99,500.2) scale(0.993,1)" text-anchor="middle">2</text><text transform="translate(1293.7,500.2) scale(0.993,1)" text-anchor="middle">0</text><text x="1304.41" y="500.2" text-anchor="middle">.</text><text transform="translate(1315.12,500.2) scale(0.993,1)" text-anchor="middle">7</text></g>
<path d="M1253.8,161.1 A5,5 0 0 1 1263.8,161.1" stroke="#000" stroke-width="1.4" fill="none" stroke-linejoin="round" stroke-linecap="round"/>
<path d="M1351,161.1 A5,5 0 0 1 1361,161.1" stroke="#000" stroke-width="1.4" fill="none" stroke-linejoin="round" stroke-linecap="round"/>
<rect x="1258.5" y="151.4" width="36.9" height="9.7" stroke="#000" stroke-width="1.9" fill="none"/>
<line x1="1267.6" y1="151.4" x2="1267.6" y2="161.1" stroke="#000" stroke-width="1.2"/>
<line x1="1269.4" y1="151.4" x2="1269.4" y2="161.1" stroke="#000" stroke-width="1.2"/>
<line x1="1283.7" y1="151.4" x2="1283.7" y2="161.1" stroke="#000" stroke-width="1.2"/>
<line x1="1286" y1="151.4" x2="1286" y2="161.1" stroke="#000" stroke-width="1.2"/>
<rect x="1261.2" y="148" width="32.1" height="3.4" stroke="#000" stroke-width="1.3" fill="none"/>
<path d="M1260,148 L1258.5,145.5 L1258.5,141 L1260,138.6 L1294,138.6 L1295.4,141 L1295.4,145.5 L1294,148 Z" stroke="#000" stroke-width="1.9" fill="none" stroke-linejoin="round" stroke-linecap="round"/>
<line x1="1267.6" y1="138.6" x2="1267.6" y2="148" stroke="#000" stroke-width="1.2"/>
<line x1="1269.4" y1="138.6" x2="1269.4" y2="148" stroke="#000" stroke-width="1.2"/>
<line x1="1283.7" y1="138.6" x2="1283.7" y2="148" stroke="#000" stroke-width="1.2"/>
<line x1="1286" y1="138.6" x2="1286" y2="148" stroke="#000" stroke-width="1.2"/>
<path d="M1262.8,138.6 C1261.5,133 1262.5,127 1266,125.7 L1289,125.7 C1292.5,127 1293.5,133 1292.5,138.6" stroke="#000" stroke-width="1.9" fill="none" stroke-linejoin="round" stroke-linecap="round"/>
<path d="M1268,126 L1268.8,110.2 C1271,108.3 1274,107 1276,108.5 C1280,108.5 1286,108 1290.5,107.9 L1288.4,126" stroke="#000" stroke-width="1.9" fill="none" stroke-linejoin="round" stroke-linecap="round"/>
<path d="M1270,111 C1273,109.5 1276,109 1278,110" stroke="#000" stroke-width="1" fill="none" stroke-linejoin="round" stroke-linecap="round"/>
<rect x="1314.7" y="151.4" width="29.3" height="9.7" stroke="#000" stroke-width="1.9" fill="none"/>
<line x1="1321.5" y1="151.4" x2="1321.5" y2="161.1" stroke="#000" stroke-width="1.2"/>
<line x1="1336.8" y1="151.4" x2="1336.8" y2="161.1" stroke="#000" stroke-width="1.2"/>
<line x1="1315.5" y1="149.8" x2="1343.2" y2="149.8" stroke="#000" stroke-width="1.3"/>
<path d="M1315.5,149.8 L1314.7,146 L1314.7,141 L1316,137.8 L1342.8,137.8 L1344,141 L1344,146 L1343.2,149.8" stroke="#000" stroke-width="1.9" fill="none" stroke-linejoin="round" stroke-linecap="round"/>
<line x1="1321.5" y1="137.8" x2="1321.5" y2="149.8" stroke="#000" stroke-width="1.2"/>
<line x1="1336.8" y1="137.8" x2="1336.8" y2="149.8" stroke="#000" stroke-width="1.2"/>
<path d="M1316.7,137.8 C1316.7,134 1319,131.4 1323,131.4 L1336,131.4 C1339.5,131.4 1341.6,134 1341.6,137.8" stroke="#000" stroke-width="1.9" fill="none" stroke-linejoin="round" stroke-linecap="round"/>
<path d="M1321.4,131 C1320,120 1320,107 1320.6,100 C1322,90 1326,78 1333.2,67 C1338,66.5 1344,67 1348.9,67.8 C1346,75 1343,82 1341,90 C1338,100 1336.3,107 1336.3,115 C1336.3,122 1337,127 1337.1,131" stroke="#000" stroke-width="1.9" fill="none" stroke-linejoin="round" stroke-linecap="round"/>
<path d="M1335.5,113.4 C1345,100 1360,87 1385,79.6 L1381,96 C1368,103 1352,115 1337.9,129.8" stroke="#000" stroke-width="1.9" fill="none" stroke-linejoin="round" stroke-linecap="round"/>
</svg>
</body></html>
